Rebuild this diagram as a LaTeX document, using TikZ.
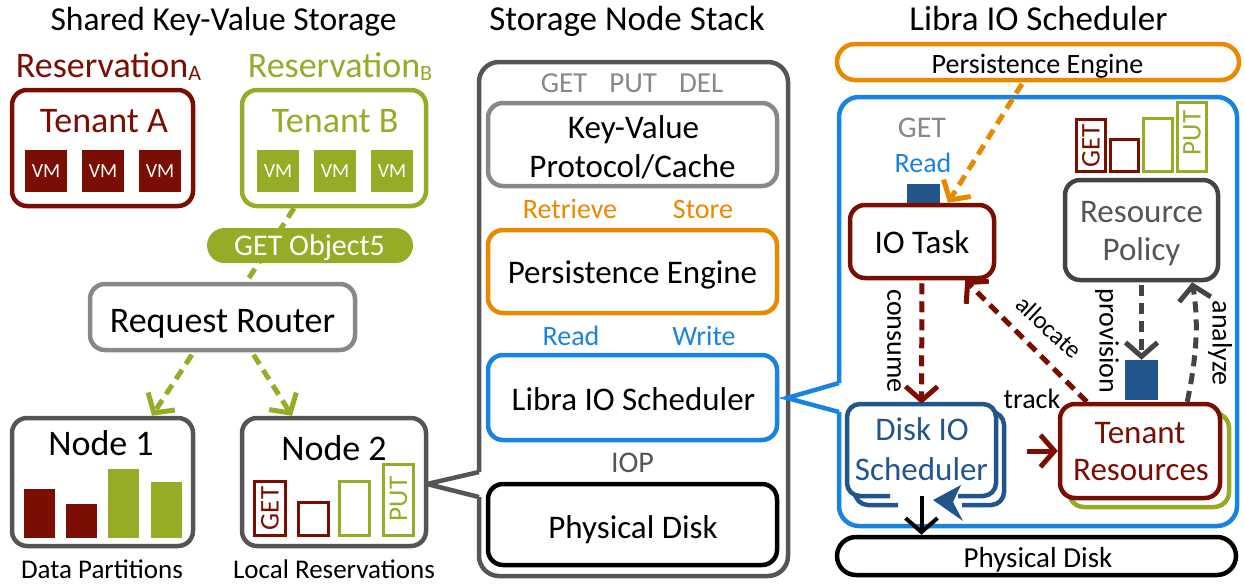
\documentclass[tikz,border=0pt]{standalone}
\usepackage{fontspec}
\setmainfont{Carlito}
\usetikzlibrary{arrows.meta,calc}

\definecolor{tenA}{RGB}{122,14,2}
\definecolor{tenB}{RGB}{151,171,38}
\definecolor{lgray}{RGB}{136,136,136}
\definecolor{dgray}{RGB}{85,85,85}
\definecolor{pgray}{RGB}{68,68,68}
\definecolor{peorange}{RGB}{232,137,0}
\definecolor{libblue}{RGB}{24,132,226}
\definecolor{dkblue}{RGB}{33,85,140}
\newcommand\fsz[1]{\fontsize{#1}{#1}\selectfont}

\begin{document}
\begin{tikzpicture}[x=1pt,y=-1pt,
  box/.style={draw, rounded corners=15pt, line width=4.5pt, fill=white, inner sep=0pt},
  txt/.style={anchor=base, inner sep=0pt},
  ttl/.style={txt, font=\fsz{35}},
  lbl/.style={txt, font=\fsz{28}},
  body/.style={txt, font=\fsz{33}},
  vlbl/.style={inner sep=0pt, rotate=90, font=\fsz{27}},
  rlbl/.style={inner sep=0pt, font=\fsz{28}},
  vm/.style={inner sep=0pt, minimum size=42pt, text=white, font=\fsz{20}},
  token/.style={fill=dkblue, inner sep=0pt},
  flow/.style={line width=5pt, dash pattern=on 11pt off 7pt},
  barb/.style={-{Straight Barb[length=14pt,width=32pt]}},
  barbox/.style={line width=3pt},
]
\useasboundingbox (0,0) rectangle (1245,584);

% ---------- callout outlines ----------
\draw[dgray, line width=4.5pt, rounded corners=20pt]
  (479,472) -- (479,62) -- (788,62) -- (788,576) -- (479,576) -- (479,497);
\draw[dgray, line width=4.5pt, line join=miter] (479,472) -- (427,484) -- (479,497);
\draw[libblue, line width=4.5pt, rounded corners=20pt]
  (839,383) -- (839,97) -- (1237,97) -- (1237,526) -- (839,526) -- (839,412);
\draw[libblue, line width=4.5pt, line join=miter] (839,383) -- (787,398) -- (839,412);

% ---------- titles ----------
\node[ttl, font=\fsz{33.5}] (ttlL) at (223.5,30) {Shared Key-Value Storage};
\node[ttl] (ttlM) at (627,30) {Storage Node Stack};
\node[ttl] (ttlR) at (1038.5,30) {Libra IO Scheduler};

% ---------- shared key-value storage ----------
\node[txt, text=tenA, font=\fsz{36}] (resA) at (108.5,77) {Reservation\raisebox{-3pt}{\fsz{22}A}};
\node[txt, text=tenB, font=\fsz{36}] (resB) at (340,77) {Reservation\raisebox{-3pt}{\fsz{22}B}};

\node[box, draw=tenA, minimum width=181pt, minimum height=116pt] (tenantA) at (102.5,148) {};
\node[box, draw=tenB, minimum width=184pt, minimum height=116pt] (tenantB) at (334,148) {};
\node[txt, text=tenA, font=\fsz{36}] (tenantAlbl) at (104,132) {Tenant A};
\node[txt, text=tenB, font=\fsz{36}] (tenantBlbl) at (335,132) {Tenant B};
\node[vm, fill=tenA] (vmA1) at (46,171) {VM};
\node[vm, fill=tenA] (vmA2) at (103,171) {VM};
\node[vm, fill=tenA] (vmA3) at (160,171) {VM};
\node[vm, fill=tenB] (vmB1) at (278,171) {VM};
\node[vm, fill=tenB] (vmB2) at (335,171) {VM};
\node[vm, fill=tenB] (vmB3) at (392,171) {VM};

\node[box, draw=lgray, minimum width=265pt, minimum height=66pt] (router) at (222.5,317) {};
\node[txt, font=\fsz{36}] (routerlbl) at (222.5,332) {Request Router};

\draw[flow, tenB] ([xshift=-40pt]tenantB.south) -- ([xshift=24pt]router.north);
\node[fill=tenB, rounded corners=17.5pt, minimum width=206pt, minimum height=35pt, inner sep=0pt] (get5) at (310,245.5) {};
\node[txt, text=white, font=\fsz{30}] (get5lbl) at (309.5,255) {GET Object5};

\node[box, draw=dgray, minimum width=181pt, minimum height=128pt] (node1) at (102.5,482) {};
\node[box, draw=dgray, minimum width=184pt, minimum height=128pt] (node2) at (334,482) {};
\node[txt, font=\fsz{36}] (node1lbl) at (101,455) {Node 1};
\node[txt, font=\fsz{36}] (node2lbl) at (334,460) {Node 2};

\draw[flow, barb, tenB, shorten <=3pt] ([xshift=-29pt]router.south) -- ([xshift=49.5pt]node1.north);
\draw[flow, barb, tenB, shorten <=3pt] ([xshift=29.5pt]router.south) -- ([xshift=-42pt]node2.north);

% data partitions
\fill[tenA] (24,489) rectangle (55,538);
\fill[tenA] (66,504) rectangle (97,538);
\fill[tenB] (108,469) rectangle (139,538);
\fill[tenB] (151,482) rectangle (182,538);
% local reservations
\draw[tenA, barbox] (254.5,481.5) rectangle (285.5,535.5);
\draw[tenA, barbox] (298.5,502.5) rectangle (328.5,535.5);
\draw[tenB, barbox] (339.5,481.5) rectangle (369.5,535.5);
\draw[tenB, barbox] (383.5,464.5) rectangle (413.5,535.5);
\node[vlbl, text=tenA] (getN2) at (270,508.5) {GET};
\node[vlbl, text=tenB] (putN2) at (398.5,499) {PUT};

\node[txt, font=\fsz{27}] (dplbl) at (102,578) {Data Partitions};
\node[txt, font=\fsz{27}] (lrlbl) at (334,578) {Local Reservations};

% ---------- storage node stack ----------
\node[txt, text=lgray, font=\fsz{29}] (ops) at (632,92) {GET\hspace{22pt}PUT\hspace{22pt}DEL};
\node[box, draw=lgray, minimum width=289pt, minimum height=83pt] (kv) at (632.5,144.5) {};
\node[body] (kvl1) at (633.5,138) {Key-Value};
\node[body] (kvl2) at (632.5,177) {Protocol/Cache};
\node[lbl, text=peorange] (retr) at (570,218) {Retrieve};
\node[lbl, text=peorange] (stor) at (703,218) {Store};
\node[box, draw=peorange, minimum width=289pt, minimum height=83pt] (pe) at (632.5,271.5) {};
\node[body] (pelbl) at (632.5,283) {Persistence Engine};
\node[lbl, text=libblue] (rd) at (571,345) {Read};
\node[lbl, text=libblue] (wr) at (704,345) {Write};
\node[box, draw=libblue, minimum width=289pt, minimum height=85pt] (lib) at (632.5,397.5) {};
\node[body] (liblbl) at (633.5,410) {Libra IO Scheduler};
\node[txt, text=dgray, font=\fsz{30}] (iop) at (632.5,472) {IOP};
\node[box, draw=black, minimum width=289pt, minimum height=81pt] (pdM) at (632.5,524.5) {};
\node[body] (pdMlbl) at (633,538) {Physical Disk};

% ---------- libra io scheduler ----------
\node[box, draw=peorange, rounded corners=18pt, minimum width=402pt, minimum height=36pt] (pePill) at (1038,62) {};
\node[txt, font=\fsz{28}] (pePilllbl) at (1037.5,73) {Persistence Engine};

\node[txt, text=lgray, font=\fsz{30}] (getR) at (922,137) {GET};
\node[lbl, text=libblue] (readR) at (923,172) {Read};
\node[token, minimum width=33pt, minimum height=19pt] (tokR) at (923.5,193.5) {};
\node[box, draw=tenA, minimum width=144pt, minimum height=73pt] (iotask) at (922,241.5) {};
\node[body] (iotasklbl) at (922,253) {IO Task};

% reservation bars over the policy
\draw[tenA, barbox] (1076.5,119.5) rectangle (1105.5,171.5);
\draw[tenA, barbox] (1110.5,139.5) rectangle (1138.5,171.5);
\draw[tenB, barbox] (1143.5,118.5) rectangle (1172.5,171.5);
\draw[tenB, barbox] (1177.5,102.5) rectangle (1206.5,171.5);
\node[vlbl, text=tenA] (getRP) at (1091,146) {GET};
\node[vlbl, text=tenB] (putRP) at (1192,133) {PUT};

\node[box, draw=pgray, minimum width=153pt, minimum height=100pt] (respol) at (1141.5,230) {};
\node[body, text=dgray] (rp1) at (1141.5,222) {Resource};
\node[body, text=dgray] (rp2) at (1141.5,260) {Policy};

% disk io scheduler: stacked queues
\node[minimum width=149pt, minimum height=92pt, inner sep=0pt] (diskio) at (921.5,450) {};
\draw[dkblue, line width=4.5pt, rounded corners=13pt]
  (898,505) -- (855,505) -- (855,412) -- (1004,412) -- (1004,505) -- (962,505);
\fill[white, rounded corners=13pt] (847,404) rectangle (996,496);
\draw[dkblue, line width=4.5pt, rounded corners=13pt]
  (890,496) -- (847,496) -- (847,404) -- (996,404) -- (996,496) -- (958,496);
\fill[dkblue] (933,500) -- (961,485) -- (953,502) -- (963,521) -- cycle;
\node[body, text=dkblue] (dio1) at (922,440) {Disk IO};
\node[body, text=dkblue] (dio2) at (921.5,480) {Scheduler};

% tenant resources
\node[box, draw=tenB, minimum width=160pt, minimum height=94pt] (tenresBack) at (1149,460) {};
\node[box, draw=tenA, minimum width=160pt, minimum height=94pt] (tenres) at (1140,451) {};
\node[body, text=tenA] (tr1) at (1140,443) {Tenant};
\node[body, text=tenA] (tr2) at (1141,480) {Resources};

\node[token, minimum width=33pt, minimum height=40pt] (tokP) at (1141.5,380) {};

\node[box, draw=black, rounded corners=19pt, minimum width=399pt, minimum height=38pt] (pdR) at (1036.5,556) {};
\node[txt, font=\fsz{29}] (pdRlbl) at (1038,567) {Physical Disk};

% flows
\draw[flow, barb, peorange, shorten <=2pt] ([xshift=-15pt]pePill.south) -- ([xshift=26pt]iotask.north);
\draw[flow, barb, tenA, shorten <=3pt] (iotask.south) -- (diskio.north);
\draw[flow, barb, tenA] ([xshift=29pt]tenres.north west) -- ([xshift=-31pt]iotask.south east);
\draw[flow, barb, pgray, shorten <=3pt] (respol.south) -- (tokP.north);
\draw[flow, barb, pgray] ([xshift=-35pt]tenres.north east) .. controls (1198,350) and (1198,318) .. ([xshift=-28pt]respol.south east);
\draw[line width=5pt, barb, tenA] ([xshift=-31pt]tenres.west) -- (tenres.west);
\draw[line width=4pt, barb, black] (diskio.south) -- (diskio.south |- pdR.north);

\node[rlbl, rotate=-90] (cons) at (894,341) {consume};
\node[rlbl, rotate=-90] (prov) at (1107,341) {provision};
\node[rlbl, rotate=-90] (anl) at (1220,343) {analyze};
\node[rlbl, rotate=-43, font=\fsz{25}] (alc) at (1049,327) {allocate};
\node[lbl] (trk) at (1032,408) {track};
\end{tikzpicture}
\end{document}
